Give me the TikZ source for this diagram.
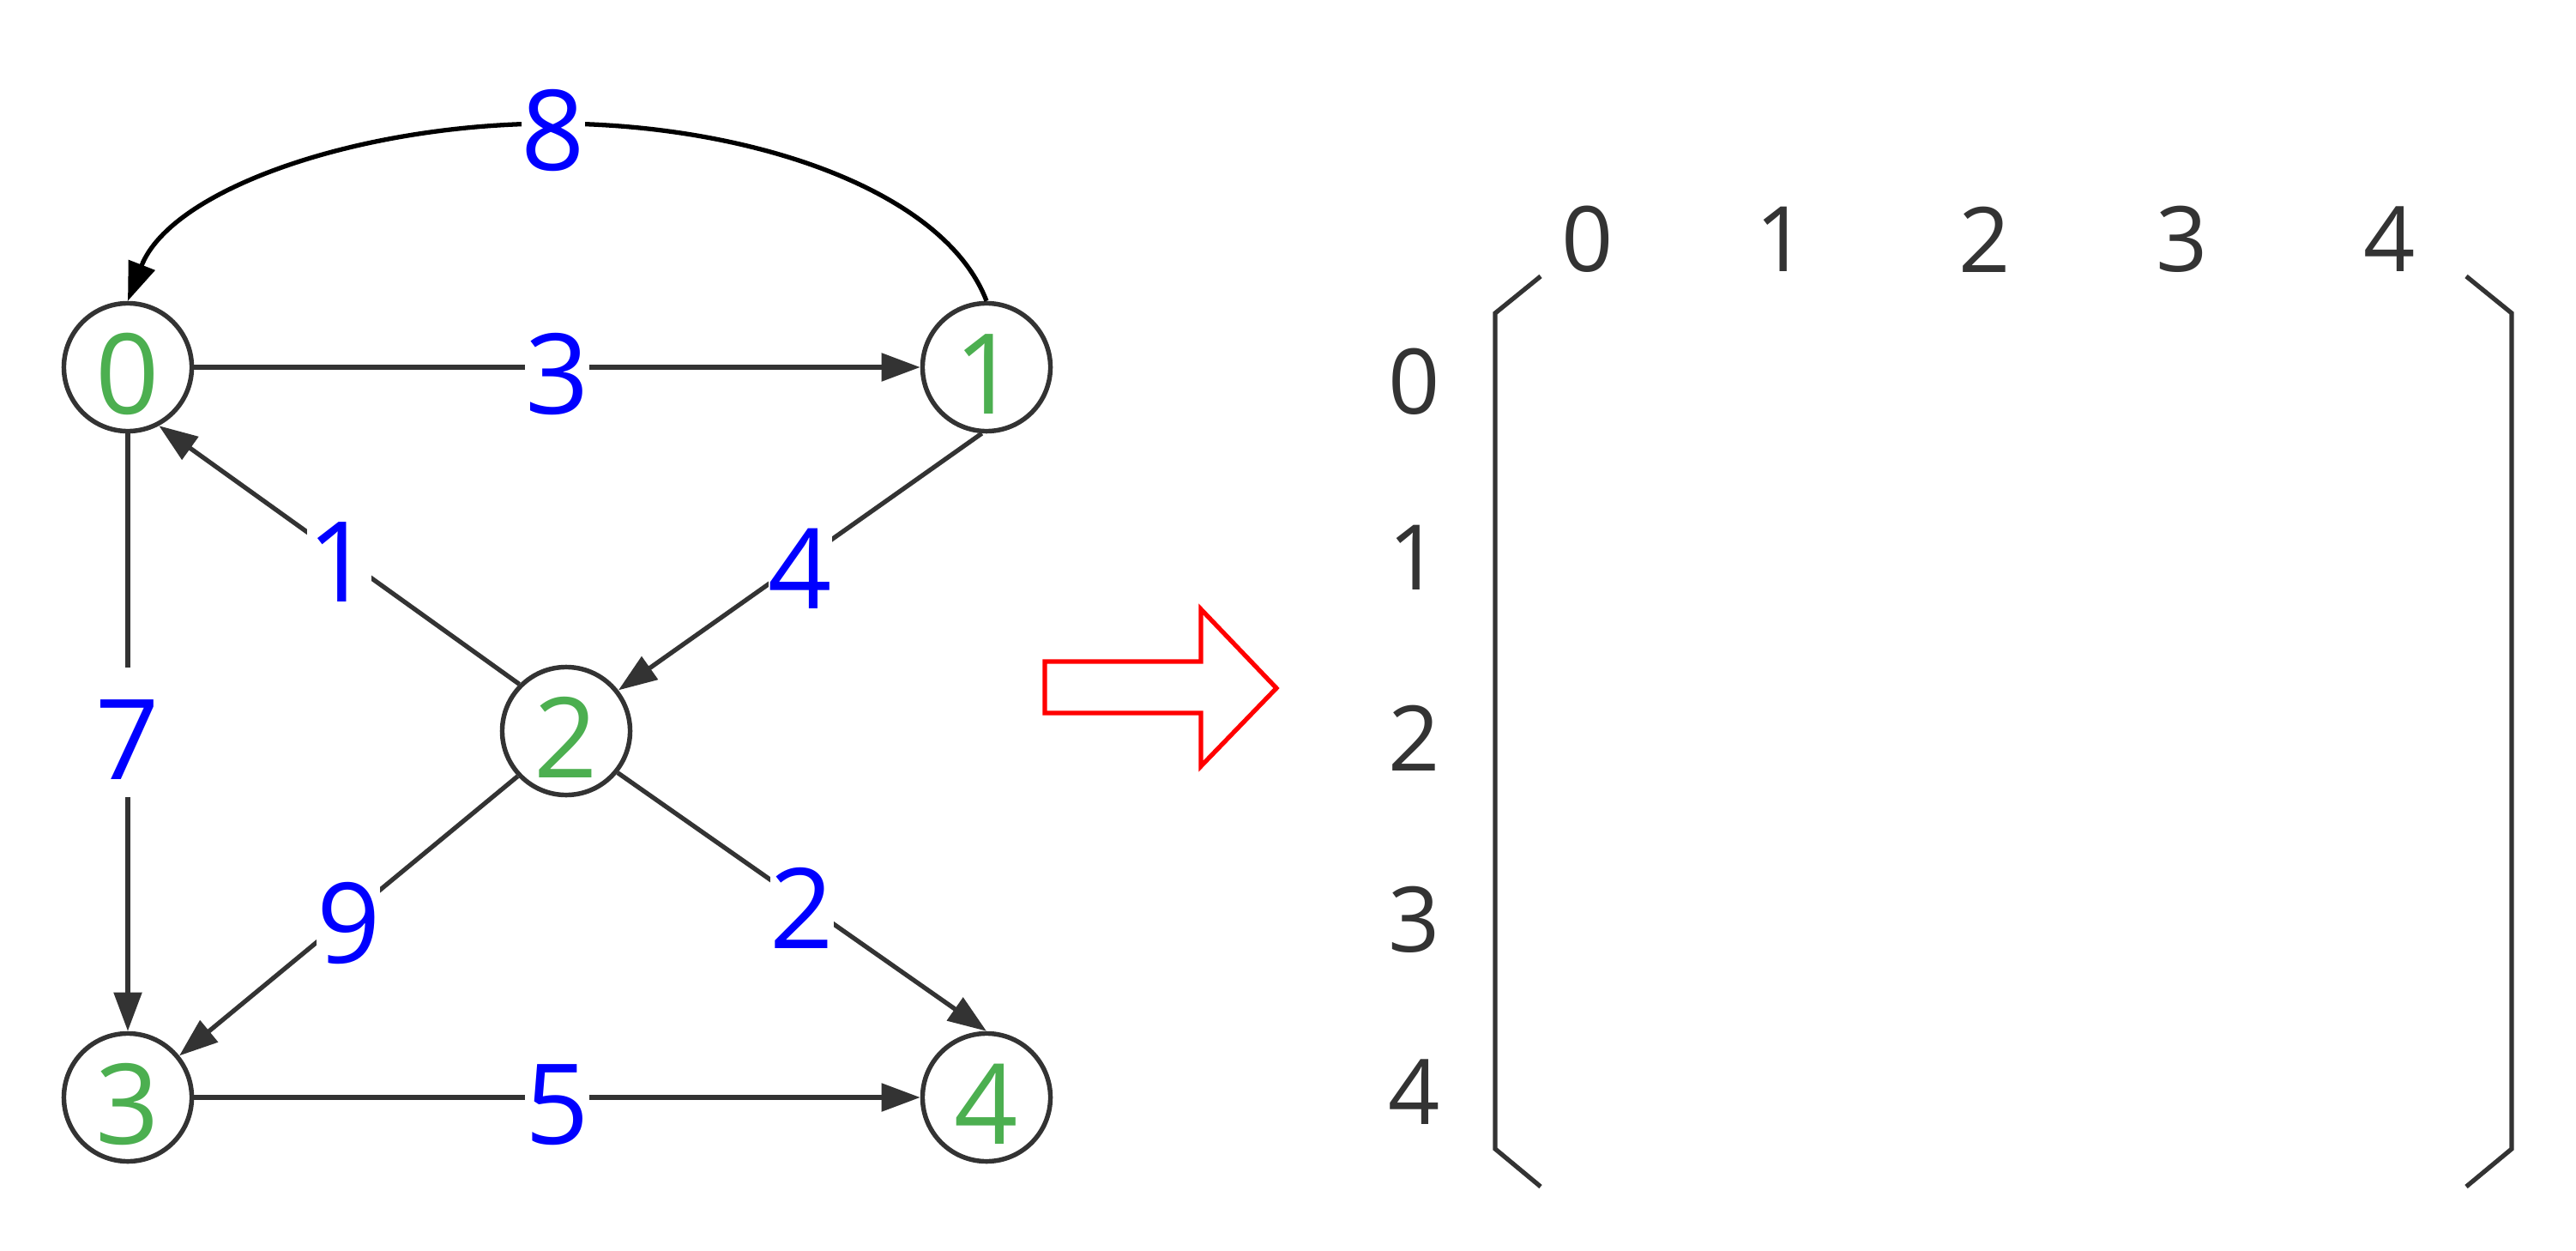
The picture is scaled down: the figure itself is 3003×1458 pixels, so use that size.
\documentclass[tikz,border=0pt]{standalone}
\usepackage{fontspec}
\setmainfont{Open Sans}
\usetikzlibrary{arrows.meta}
\definecolor{dgray}{HTML}{333333}
\definecolor{vgreen}{HTML}{4CAF50}
\definecolor{lblue}{HTML}{0000FF}
\begin{document}
\begin{tikzpicture}[x=0.01cm,y=-0.01cm,
  vlab/.style={text=vgreen,font=\fontsize{37}{44}\selectfont,inner sep=0pt,text height=37pt,text depth=6pt},
  vert/.style={circle,draw=dgray,line width=1.55pt,minimum size=1.49cm,inner sep=0pt,label={[vlab]center:#1}},
  lbl/.style={text=lblue,fill=white,font=\fontsize{37}{44}\selectfont,inner sep=0pt,text height=37pt,text depth=6pt},
  edge/.style={draw=dgray,line width=1.5pt,-{Triangle[length=0.45cm,width=0.32cm]}},
  mlab/.style={text=dgray,font=\fontsize{30}{36}\selectfont,inner sep=0pt},
  brk/.style={draw=dgray,line width=1.5pt}
]
\useasboundingbox (0,0) rectangle (3003,1458);
% vertices
\node[vert=0] (n0) at (149,428) {};
\node[vert=1] (n1) at (1150,428) {};
\node[vert=2] (n2) at (660,852) {};
\node[vert=3] (n3) at (149,1279) {};
\node[vert=4] (n4) at (1150,1279) {};
% edges
\draw[edge] (n0.east) -- node[lbl,pos=.5]{3} (n1.west);
\draw[edge] (n2.135) -- node[lbl,pos=.5]{1} (n0.-62);
\draw[edge] (n1.-94) -- node[lbl,pos=.5]{4} (n2.38);
\draw[edge] (n0.south) -- node[lbl,pos=.5]{7} (n3.north);
\draw[edge] (n2.-137) -- node[lbl,pos=.5]{9} (n3.39);
\draw[edge] (n2.-39) -- node[lbl,pos=.5]{2} (n4.north);
\draw[edge] (n3.east) -- node[lbl,pos=.5]{5} (n4.west);
\draw[edge,draw=black] (n1.north) .. controls (1100,220) and (870,144) .. (645,144)
   node[lbl]{8} .. controls (420,144) and (200,220) .. (n0.north);
% red arrow
\draw[red,line width=1.5pt,line join=miter] (1218,771) -- (1400,771) -- (1400,710) -- (1488,802)
   -- (1400,893) -- (1400,831) -- (1218,831) -- cycle;
% matrix brackets
\draw[brk] (1796,322) -- (1743,365) -- (1743,1339) -- (1796,1383);
\draw[brk] (2875,322) -- (2928,365) -- (2928,1339) -- (2875,1383);
% column labels
\node[mlab] (c0) at (1851,279) {0};
\node[mlab] (c1) at (2077,279) {1};
\node[mlab] (c2) at (2314,279) {2};
\node[mlab] (c3) at (2544,279) {3};
\node[mlab] (c4) at (2786,279) {4};
% row labels
\node[mlab] (r0) at (1649,445) {0};
\node[mlab] (r1) at (1649,650) {1};
\node[mlab] (r2) at (1649,860) {2};
\node[mlab] (r3) at (1649,1072) {3};
\node[mlab] (r4) at (1649,1273) {4};
\end{tikzpicture}
\end{document}
